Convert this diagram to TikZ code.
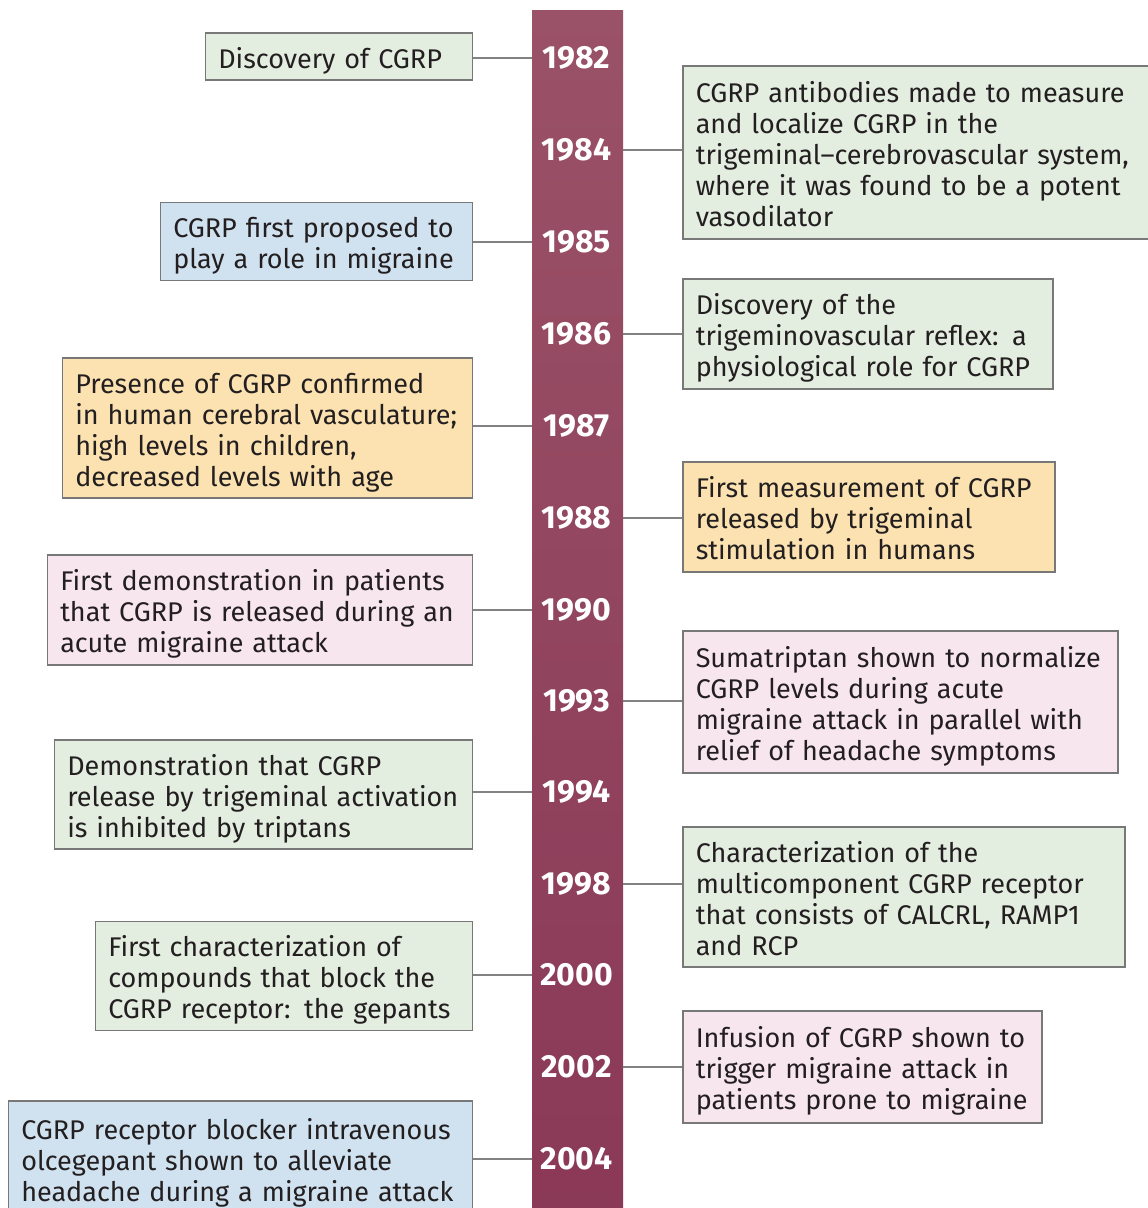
\documentclass[tikz,border=0pt]{standalone}
\usepackage{fontspec}
\setmainfont{Fira Sans}
\usetikzlibrary{calc}
\definecolor{txt}{RGB}{35,31,32}
\definecolor{edge}{RGB}{120,120,120}
\definecolor{conn}{RGB}{130,130,130}
\definecolor{gfill}{RGB}{227,237,224}
\definecolor{bfill}{RGB}{208,226,240}
\definecolor{ofill}{RGB}{251,226,176}
\definecolor{pfill}{RGB}{248,230,238}
\definecolor{bartop}{RGB}{154,82,104}
\definecolor{barbot}{RGB}{138,56,86}
\tikzset{
  evbox/.style={draw=edge, line width=1.5pt, inner xsep=13pt, inner ysep=0pt, align=left,
    font=\fontsize{27}{31}\selectfont, text=txt,
    execute at begin node={\rule{0pt}{35pt}},
    execute at end node={\rule[-12pt]{0pt}{1pt}}},
  lbox/.style={evbox, anchor=east},
  rbox/.style={evbox, anchor=west},
  yearlbl/.style={text=white, font=\fontsize{32}{34}\selectfont\bfseries},
  link/.style={draw=conn, line width=1.8pt}
}
\begin{document}
\begin{tikzpicture}[x=1pt,y=-1pt]
\clip (0,0) rectangle (1148,1208);
\fill[white] (0,0) rectangle (1148,1208);
\node[top color=bartop, bottom color=barbot, minimum width=91pt, minimum height=1220pt, anchor=north, inner sep=0pt] (bar) at (577.5,10) {};
% years
\node[yearlbl] (y1982) at (576.5,58) {1982};
\node[yearlbl] (y1984) at (576.5,150) {1984};
\node[yearlbl] (y1985) at (576.5,242) {1985};
\node[yearlbl] (y1986) at (576.5,334) {1986};
\node[yearlbl] (y1987) at (576.5,426) {1987};
\node[yearlbl] (y1988) at (576.5,518) {1988};
\node[yearlbl] (y1990) at (576.5,610) {1990};
\node[yearlbl] (y1993) at (576.5,701) {1993};
\node[yearlbl] (y1994) at (576.5,792) {1994};
\node[yearlbl] (y1998) at (576.5,884) {1998};
\node[yearlbl] (y2000) at (576.5,975) {2000};
\node[yearlbl] (y2002) at (576.5,1067) {2002};
\node[yearlbl] (y2004) at (576.5,1159) {2004};
% left boxes
\node[lbox, fill=gfill, text width=241pt, minimum height=47pt] (disc) at (473,56.5) {Discovery of CGRP};
\node[lbox, fill=bfill, text width=286pt, minimum height=77pt] (prop) at (473,241.5) {CGRP first proposed to\\play a role in migraine};
\node[lbox, fill=ofill, text width=384pt, minimum height=140pt] (pres) at (473,428) {Presence of CGRP confirmed\\in human cerebral vasculature;\\high levels in children,\\decreased levels with age};
\node[lbox, fill=pfill, text width=399pt, minimum height=110pt] (demoa) at (473,610) {First demonstration in patients\\that CGRP is released during an\\acute migraine attack};
\node[lbox, fill=gfill, text width=392pt, minimum height=109pt] (demob) at (473,794.5) {Demonstration that CGRP\\release by trigeminal activation\\is inhibited by triptans};
\node[lbox, fill=gfill, text width=351pt, minimum height=108pt] (chara) at (473,976) {First characterization of\\compounds that block the\\CGRP receptor: the gepants};
\node[lbox, fill=bfill, text width=438pt, minimum height=115pt] (olce) at (473,1158.5) {CGRP receptor blocker intravenous\\olcegepant shown to alleviate\\headache during a migraine attack};
% right boxes
\node[rbox, fill=gfill, text width=443pt, minimum height=173pt] (anti) at (682,152.5) {CGRP antibodies made to measure\\and localize CGRP in the\\trigeminal--cerebrovascular system,\\where it was found to be a potent\\vasodilator};
\node[rbox, fill=gfill, text width=344pt, minimum height=110pt] (tvr) at (682,334) {Discovery of the\\trigeminovascular reflex: a\\physiological role for CGRP};
\node[rbox, fill=ofill, text width=346pt, minimum height=110pt] (meas) at (682,517) {First measurement of CGRP\\released by trigeminal\\stimulation in humans};
\node[rbox, fill=pfill, text width=409pt, minimum height=142pt] (suma) at (682,702) {Sumatriptan shown to normalize\\CGRP levels during acute\\migraine attack in parallel with\\relief of headache symptoms};
\node[rbox, fill=gfill, text width=416pt, minimum height=140pt] (recep) at (682,897) {Characterization of the\\multicomponent CGRP receptor\\that consists of CALCRL, RAMP1\\and RCP};
\node[rbox, fill=pfill, text width=333pt, minimum height=112pt] (infu) at (682,1067) {Infusion of CGRP shown to\\trigger migraine attack in\\patients prone to migraine};
% connectors
\draw[link] (disc.east |- y1982) -- (bar.west |- y1982);
\draw[link] (prop.east |- y1985) -- (bar.west |- y1985);
\draw[link] (pres.east |- y1987) -- (bar.west |- y1987);
\draw[link] (demoa.east |- y1990) -- (bar.west |- y1990);
\draw[link] (demob.east |- y1994) -- (bar.west |- y1994);
\draw[link] (chara.east |- y2000) -- (bar.west |- y2000);
\draw[link] (olce.east |- y2004) -- (bar.west |- y2004);
\draw[link] (bar.east |- y1984) -- (anti.west |- y1984);
\draw[link] (bar.east |- y1986) -- (tvr.west |- y1986);
\draw[link] (bar.east |- y1988) -- (meas.west |- y1988);
\draw[link] (bar.east |- y1993) -- (suma.west |- y1993);
\draw[link] (bar.east |- y1998) -- (recep.west |- y1998);
\draw[link] (bar.east |- y2002) -- (infu.west |- y2002);
\end{tikzpicture}
\end{document}
